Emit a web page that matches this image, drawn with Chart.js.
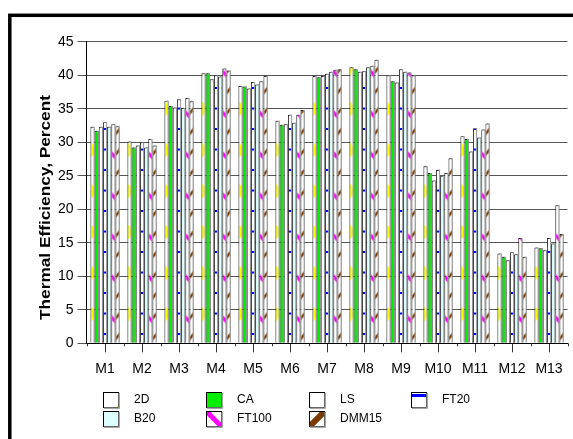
<!DOCTYPE html>
<html>
<head>
<meta charset="utf-8">
<script src="https://cdn.jsdelivr.net/npm/chart.js@4.4.0/dist/chart.umd.min.js"></script>
<style>
  body { margin: 0; background: #fff; }
  #wrap { position: relative; width: 573px; height: 439px; }
</style>
</head>
<body>
<div id="wrap"><canvas id="chart" width="573" height="439"></canvas></div>
<script>
// --- data ---
const categories = ['M1', 'M2', 'M3', 'M4', 'M5', 'M6', 'M7', 'M8', 'M9', 'M10', 'M11', 'M12', 'M13'];
const seriesNames = ['2D', 'CA', 'LS', 'FT20', 'B20', 'FT100', 'DMM15'];
const val2D    = [32.3, 30.1, 36.2, 40.3, 38.4, 33.2, 39.9, 41.2, 40.0, 26.4, 30.9, 13.4, 14.3];
const valCA    = [31.7, 29.2, 35.4, 40.3, 38.3, 32.6, 39.7, 40.9, 39.1, 25.4, 30.5, 12.9, 14.2];
const valLS    = [32.3, 29.5, 35.2, 39.4, 38.0, 32.7, 39.9, 40.5, 38.9, 24.3, 28.6, 12.4, 13.9];
const valFT20  = [33.0, 30.0, 36.4, 40.0, 39.0, 34.1, 40.2, 40.6, 40.9, 25.9, 32.1, 13.6, 15.7];
const valB20   = [32.3, 29.2, 35.1, 39.8, 38.6, 32.9, 40.5, 41.2, 40.5, 25.0, 30.7, 13.3, 14.9];
const valFT100 = [32.7, 30.5, 36.6, 41.0, 39.1, 34.1, 40.8, 41.4, 40.4, 25.4, 31.9, 15.7, 20.6];
const valDMM15 = [32.4, 29.5, 36.1, 40.7, 39.9, 34.8, 40.9, 42.3, 40.0, 27.6, 32.8, 12.9, 16.3];
const yMin = 0, yMax = 45, yStep = 5;
const yTitle = 'Thermal Efficiency, Percent';

const CAT_PCT = 0.79;

// 패턴 타일 (bar-local coordinates, 8 x 41)
function makeTile(draw) {
  const c = document.createElement('canvas');
  c.width = 8; c.height = 41;
  const g = c.getContext('2d');
  g.fillStyle = '#fff';
  g.fillRect(0, 0, 8, 41);
  draw(g);
  return c;
}

const tiles = {
  '2D': { ty: 7, tile: makeTile(g => {
    g.fillStyle = '#ffff00';
    g.beginPath(); g.ellipse(0.5, 20, 3.2, 7, 0, 0, Math.PI * 2); g.fill();
  }) },
  'FT20': { ty: 37, tile: makeTile(g => {
    g.fillStyle = '#0000ff';
    g.fillRect(0.8, 9, 3, 2);
    g.fillRect(0.8, 29.5, 3, 2);
  }) },
  'FT100': { ty: 12.7, tile: makeTile(g => {
    g.fillStyle = '#ff00ff';
    g.beginPath();
    g.moveTo(0, 15); g.lineTo(5, 20); g.lineTo(5, 25); g.lineTo(0, 20);
    g.closePath(); g.fill();
  }) },
  'DMM15': { ty: 38, tile: makeTile(g => {
    g.fillStyle = '#7b3a00';
    [10, 30.5].forEach(c => {
      g.beginPath();
      g.moveTo(0, c + 2); g.lineTo(5, c - 4); g.lineTo(5, c + 0); g.lineTo(0, c + 6);
      g.closePath(); g.fill();
    });
  }) }
};

const solidColors = { 'CA': '#00ee00', 'LS': '#ffffff', 'B20': '#dcffff' };

function barFill(seriesIndex) {
  const name = seriesNames[seriesIndex];
  if (solidColors[name]) return solidColors[name];
  const t = tiles[name];
  return function(ctx) {
    const chart = ctx.chart;
    const xs = chart.scales && chart.scales.x;
    if (ctx.type !== 'data' || !xs || !xs.width) return '#ffffff';
    const catW = xs.width / categories.length;
    const groupW = catW * CAT_PCT;
    const barW = groupW / seriesNames.length;
    const left = xs.getPixelForValue(ctx.dataIndex) - groupW / 2 + seriesIndex * barW;
    const p = chart.ctx.createPattern(t.tile, 'repeat');
    p.setTransform(new DOMMatrix().translate(left, t.ty));
    return p;
  };
}

const seriesValues = [val2D, valCA, valLS, valFT20, valB20, valFT100, valDMM15];

const datasets = seriesNames.map((name, i) => ({
  label: name,
  data: seriesValues[i],
  backgroundColor: barFill(i),
  borderColor: '#222',
  borderWidth: 1,
  categoryPercentage: CAT_PCT,
  barPercentage: 1.0
}));

// 범례 상자 그리기
function drawLegendBox(ctx, name, x, y) {
  const s = 16;
  ctx.save();
  ctx.fillStyle = solidColors[name] || '#fff';
  ctx.fillRect(x, y, s, s);
  ctx.beginPath(); ctx.rect(x, y, s, s); ctx.clip();
  if (name === '2D') {
    ctx.fillStyle = '#ffff00';
    ctx.beginPath(); ctx.moveTo(x + s, y + s - 4); ctx.lineTo(x + s, y + s); ctx.lineTo(x + s - 4, y + s); ctx.fill();
  } else if (name === 'FT20') {
    ctx.fillStyle = '#0000ff';
    ctx.fillRect(x, y + 2, s, 3);
  } else if (name === 'FT100') {
    ctx.strokeStyle = '#ff00ff'; ctx.lineWidth = 5;
    ctx.beginPath(); ctx.moveTo(x, y); ctx.lineTo(x + s, y + s); ctx.stroke();
  } else if (name === 'DMM15') {
    ctx.strokeStyle = '#7b3a00'; ctx.lineWidth = 6;
    ctx.beginPath(); ctx.moveTo(x - 1, y + s + 1); ctx.lineTo(x + s + 1, y - 1); ctx.stroke();
  }
  ctx.restore();
  ctx.strokeStyle = '#000'; ctx.lineWidth = 1;
  ctx.strokeRect(x + 0.5, y + 0.5, s - 1, s - 1);
  ctx.strokeStyle = '#888'; ctx.lineWidth = 1.5;
  ctx.beginPath(); ctx.moveTo(x + s, y + 1); ctx.lineTo(x + s, y + s); ctx.lineTo(x + 1, y + s); ctx.stroke();
}

const decorPlugin = {
  id: 'decor',
  // 막대 오른쪽에 회색 그림자
  beforeDatasetsDraw(chart) {
    const ctx = chart.ctx;
    ctx.save();
    ctx.shadowColor = '#9a9a9a';
    ctx.shadowOffsetX = 1.5;
    ctx.shadowOffsetY = -1;
    ctx.shadowBlur = 0;
  },
  afterDatasetsDraw(chart) {
    chart.ctx.restore();
  },
  afterDraw(chart) {
    const ctx = chart.ctx;
    const xs = chart.scales.x;
    const area = chart.chartArea;

    // 바깥 프레임
    ctx.save();
    ctx.strokeStyle = '#000'; ctx.lineWidth = 3.5;
    ctx.strokeRect(9.8, 15.3, 700, 700);

    // 카테고리 경계의 작은 눈금
    ctx.strokeStyle = '#333'; ctx.lineWidth = 1;
    const catW = xs.width / categories.length;
    for (let i = 0; i <= categories.length; i++) {
      const x = Math.round(xs.left + i * catW) + 0.5;
      ctx.beginPath(); ctx.moveTo(x, area.bottom); ctx.lineTo(x, area.bottom + 3); ctx.stroke();
    }

    // y축 제목
    ctx.translate(46, 207.5);
    ctx.rotate(-Math.PI / 2);
    ctx.font = 'bold 14px "Liberation Sans", Arial, sans-serif';
    ctx.fillStyle = '#000';
    ctx.textAlign = 'center'; ctx.textBaseline = 'middle';
    const w = ctx.measureText(yTitle).width;
    ctx.scale(225 / w, 1);
    ctx.fillText(yTitle, 0, 0);
    ctx.restore();

    // 범례 (4열)
    ctx.save();
    ctx.font = '12px "Liberation Sans", Arial, sans-serif';
    ctx.fillStyle = '#000';
    ctx.textBaseline = 'middle';
    const colX = [103, 206, 309, 411];
    const rowY = [392, 411];
    chart.data.datasets.forEach((ds, i) => {
      const col = i % 4, row = Math.floor(i / 4);
      drawLegendBox(ctx, ds.label, colX[col], rowY[row]);
      ctx.fillStyle = '#000';
      ctx.fillText(ds.label, colX[col] + 31, rowY[row] + 8);
    });
    ctx.restore();
  }
};

new Chart(document.getElementById('chart'), {
  type: 'bar',
  data: { labels: categories, datasets },
  options: {
    responsive: false,
    devicePixelRatio: 1,
    animation: false,
    layout: { padding: { left: 0, right: 5.5, top: 41.7, bottom: 65.7 } },
    plugins: {
      legend: { display: false },
      tooltip: { enabled: false },
      title: { display: false }
    },
    scales: {
      x: {
        offset: true,
        grid: { display: true, drawOnChartArea: false, offset: false, tickLength: 9, color: '#333' },
        border: { display: true, color: '#000', width: 1 },
        ticks: { color: '#000', padding: 8, font: { family: '"Liberation Sans", Arial, sans-serif', size: 14 }, maxRotation: 0, autoSkip: false },
        afterFit(scale) { scale.height = 30; }
      },
      y: {
        min: yMin, max: yMax,
        grid: { color: '#555', lineWidth: 1, tickLength: 9 },
        border: { display: true, color: '#000', width: 1 },
        ticks: { stepSize: yStep, color: '#000', padding: 4, font: { family: '"Liberation Sans", Arial, sans-serif', size: 14 } },
        afterFit(scale) { scale.width = 86.5; }
      }
    }
  },
  plugins: [decorPlugin]
});
</script>
</body>
</html>
